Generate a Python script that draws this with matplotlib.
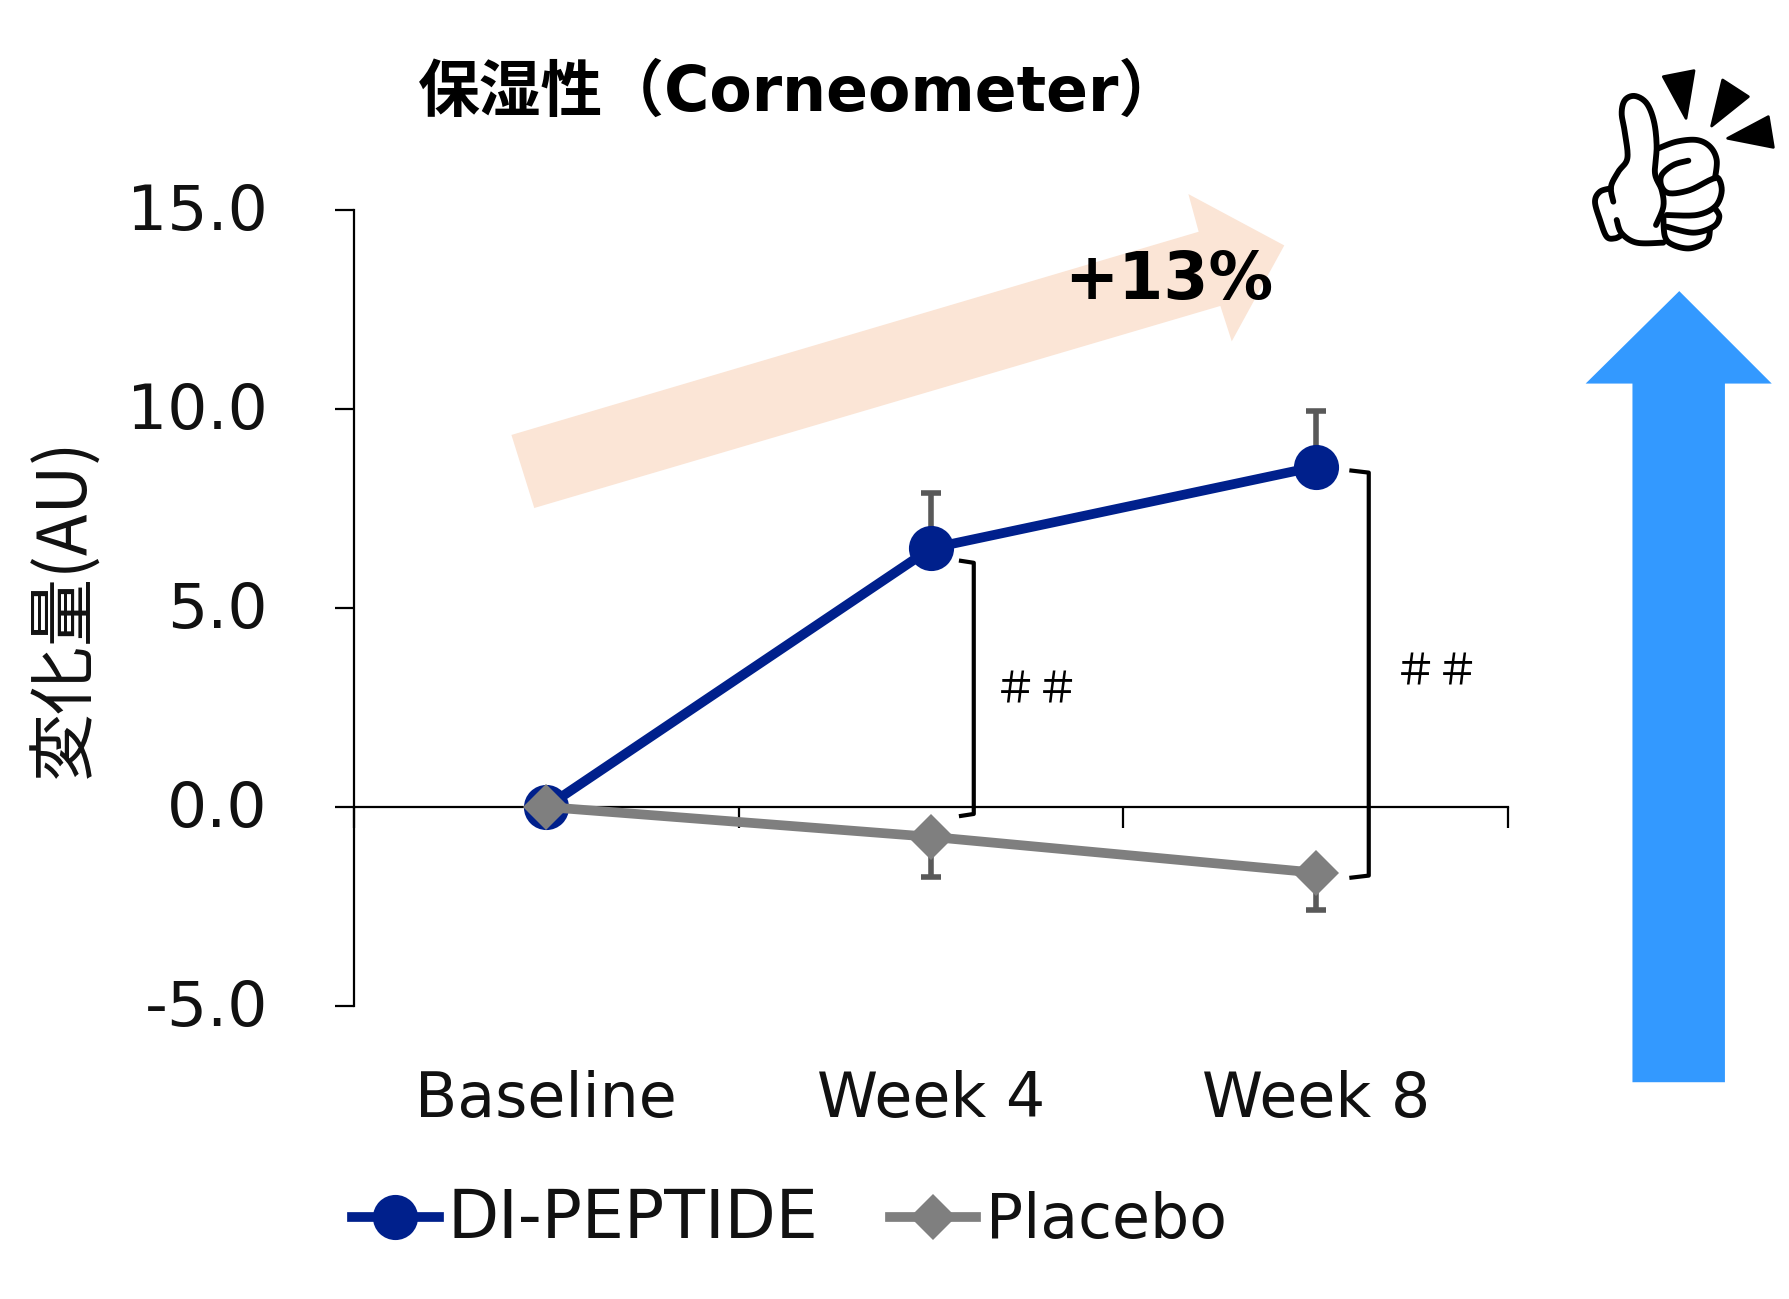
import numpy as np
import matplotlib
matplotlib.use("Agg")
import matplotlib.pyplot as plt
from matplotlib.lines import Line2D
from matplotlib.patches import Polygon
from matplotlib.transforms import ScaledTranslation

categories = ["Baseline", "Week 4", "Week 8"]
di_values = [0.0, 6.5, 8.55]
di_err_up = [0.0, 1.4, 1.4]
placebo_values = [0.0, -0.75, -1.65]
placebo_err_down = [0.0, 1.0, 0.95]
y_ticks = [-5, 0, 5, 10, 15]

W, H = 1790, 1299
NAVY, GREY, ERR = "#00208C", "#7F7F7F", "#595959"
LAT = ["DejaVu Sans", "Noto Sans CJK JP"]
plt.rcParams["font.family"] = LAT

fig = plt.figure(figsize=(W / 100, H / 100), dpi=100, facecolor="white")

bg = fig.add_axes([0, 0, 1, 1], zorder=0)
bg.set_xlim(0, W); bg.set_ylim(H, 0); bg.axis("off")
S = 1790 / 1568
def sp(pts):
    return [(x * S, y * S) for x, y in pts]
bg.add_patch(Polygon(sp([(448, 381), (1050, 203), (1041, 170), (1125, 215), (1079, 299),
                         (1069, 268), (468, 445)]), fc="#FBE5D6", ec="none"))
bg.add_patch(Polygon(sp([(1471, 255), (1552, 336), (1511, 336), (1511, 948), (1430, 948),
                         (1430, 336), (1389, 336)]), fc="#3399FF", ec="none"))

ax = fig.add_axes([354 / W, 1 - 1006 / H, (1508 - 354) / W, (1006 - 210) / H], zorder=1)
ax.patch.set_alpha(0)
x = np.arange(len(categories)) + 0.5
ax.set_xlim(0, 3); ax.set_ylim(-5, 15)
for s in ("top", "right"):
    ax.spines[s].set_visible(False)
ax.spines["bottom"].set_position(("data", 0))
ax.spines["left"].set_linewidth(1.6); ax.spines["bottom"].set_linewidth(1.6)
ax.set_yticks(y_ticks)
ax.set_yticklabels([f"{v:.1f}" for v in y_ticks], fontsize=45.5, color="#111111")
ax.tick_params(axis="y", length=14, width=1.6, pad=48)
up = ScaledTranslation(0, 2.5 / 72, fig.dpi_scale_trans)
for lab in ax.get_yticklabels():
    lab.set_transform(lab.get_transform() + up)
ax.set_xticks(range(4)); ax.set_xticklabels([])
ax.tick_params(axis="x", which="major", length=15, width=1.6)
ax.set_xticks(x, minor=True)
ax.set_xticklabels(categories, minor=True, fontsize=44.5, color="#111111")
ax.tick_params(axis="x", which="minor", length=0, pad=189)
ax.set_ylabel("変化量(AU)", fontsize=49, color="#111111", family=["Noto Sans CJK JP"], va="center")
ax.yaxis.set_label_coords(-0.25, 0.5)
ax.yaxis.label.set_y(0.5)

ax.errorbar(x, di_values, yerr=[np.zeros(3), di_err_up], fmt="none", ecolor=ERR,
            elinewidth=4, capsize=7, capthick=4, zorder=2)
ax.errorbar(x, placebo_values, yerr=[placebo_err_down, np.zeros(3)], fmt="none", ecolor=ERR,
            elinewidth=4, capsize=7, capthick=4, zorder=2)
ax.plot(x, di_values, color=NAVY, lw=7, marker="o", ms=32.5, mew=0, zorder=3,
        clip_on=False)
ax.plot(x, placebo_values, color=GREY, lw=7, marker="D", ms=23.5, mew=0, zorder=4,
        clip_on=False)

handles = [Line2D([], [], color=NAVY, lw=7, marker="o", ms=32.5, mew=0),
           Line2D([], [], color=GREY, lw=7, marker="D", ms=23.5, mew=0)]
leg = ax.legend(handles, ["DI-PEPTIDE", "Placebo"], ncol=2, frameon=False, fontsize=44.5,
                handlelength=1.4, handletextpad=0.15, columnspacing=1.15, borderpad=0,
                labelcolor="#111111", loc="center left",
                bbox_to_anchor=(-0.0285, -0.268))
leg.get_texts()[0].set_fontsize(48)

fg = fig.add_axes([0, 0, 1, 1], zorder=2)
fg.set_xlim(0, W); fg.set_ylim(H, 0); fg.axis("off")
for pts in ([(840, 491), (853, 493), (853, 713), (840, 715)],
            [(1182, 412), (1199, 414), (1199, 767), (1182, 769)]):
    p = sp(pts)
    fg.plot(*zip(*p), color="black", lw=3.0, solid_joinstyle="round", solid_capstyle="butt")
fg.text(908 * S, 606 * S, "＃＃", fontsize=31, ha="center", va="center",
        family=["Noto Sans CJK JP"], color="black")
fg.text(1259 * S, 590 * S, "＃＃", fontsize=31, ha="center", va="center",
        family=["Noto Sans CJK JP"], color="black")
fg.text(1024 * S, 246 * S, "+13%", fontsize=46.5, fontweight="bold", ha="center",
        va="center", color="black")
fg.text(366 * S, 82 * S, "保湿性（Corneometer）", fontsize=44.5, fontweight="bold", ha="left",
        va="center", color="black")

def Z(pts):
    return [(1550 + a / 3, 50 + b / 3) for a, b in pts]
def smooth(pts, n=12):
    P = np.array(pts, float)
    P = np.vstack([P[0], P, P[-1]])
    out = []
    for i in range(1, len(P) - 2):
        for t in np.linspace(0, 1, n, endpoint=False):
            a, b, c, d = P[i - 1], P[i], P[i + 1], P[i + 2]
            out.append(0.5 * (2 * b + (c - a) * t + (2 * a - 5 * b + 4 * c - d) * t ** 2
                              + (3 * b - a - 3 * c + d) * t ** 3))
    out.append(P[-2])
    return np.array(out)
for tri in ([(340, 80), (432, 62), (408, 205)], [(518, 90), (595, 140), (485, 228)],
            [(655, 200), (670, 292), (533, 265)]):
    fg.add_patch(Polygon(Z(tri), fc="black", ec="black", lw=2, joinstyle="round"))
strokes = [
    [(190, 455), (183, 410), (205, 365), (232, 325), (225, 250), (215, 190), (225, 150),
     (255, 138), (290, 160), (312, 215), (320, 290), (315, 370), (335, 420), (340, 470),
     (318, 525)],
    [(183, 415), (150, 425), (135, 455), (150, 510), (170, 560), (195, 565), (215, 555)],
    [(200, 510), (215, 550), (260, 578), (340, 578)],
    [(325, 295), (380, 275), (440, 270), (480, 290), (500, 330), (495, 385)],
    [(415, 332), (370, 345), (335, 375), (335, 410), (360, 430), (420, 420), (480, 390),
     (505, 385), (515, 425), (495, 470), (440, 495), (350, 495)],
    [(495, 475), (508, 500), (490, 530), (430, 548), (350, 530)],
    [(480, 540), (470, 575), (420, 595), (370, 585), (345, 560), (340, 500)],
]
for st in strokes:
    c = smooth(Z(st))
    fg.plot(c[:, 0], c[:, 1], color="black", lw=4.2, solid_capstyle="round",
            solid_joinstyle="round")

fig.savefig("out.png", dpi=100, facecolor="white")
